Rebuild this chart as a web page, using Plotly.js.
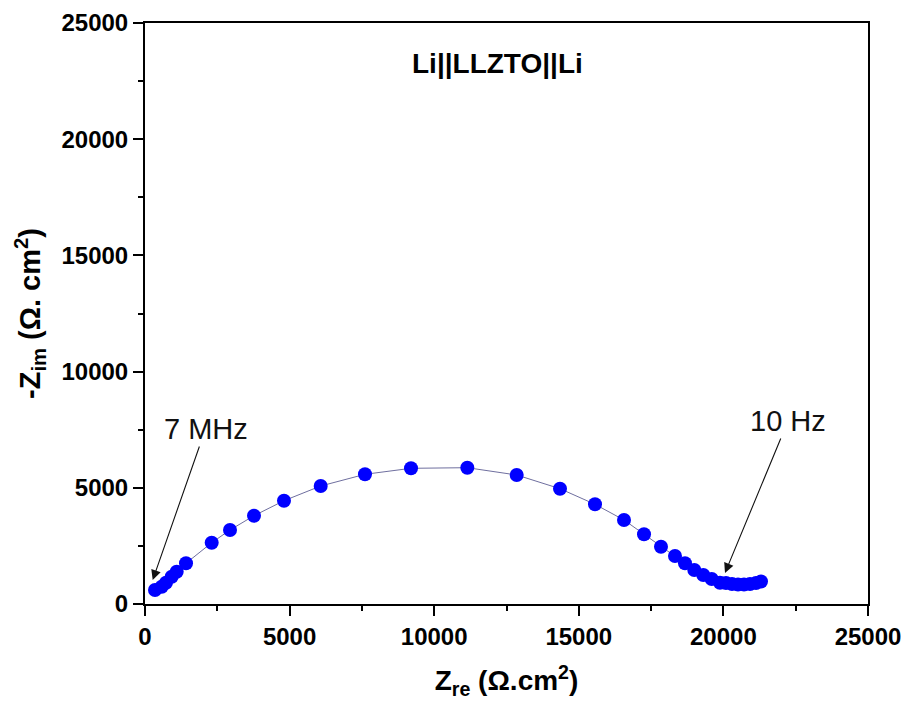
<!DOCTYPE html>
<html>
<head>
<meta charset="utf-8">
<script src="https://cdn.plot.ly/plotly-3.0.1.min.js"></script>
<style>
  html, body { margin: 0; padding: 0; background: #fff; }
  #plot { width: 907px; height: 711px; }
</style>
</head>
<body>
<div id="plot"></div>
<script>
// Nyquist plot of the symmetric Li||LLZTO||Li cell
const zRe = [346, 577, 726, 923, 1096, 1418, 2306, 2939, 3769, 4806, 6075, 7607, 9198,
             11145, 12853, 14350, 15560, 16563, 17255, 17842, 18326, 18672, 18994, 19305,
             19595, 19882, 20090, 20297, 20505, 20712, 20920, 21127, 21300];
const zIm = [602, 744, 917, 1175, 1390, 1751, 2638, 3184, 3800, 4445, 5077, 5581, 5839,
             5865, 5551, 4961, 4290, 3614, 2999, 2466, 2065, 1751, 1463, 1248,
             1076, 917, 904, 861, 839, 839, 861, 904, 968];

const xTicks = [0, 5000, 10000, 15000, 20000, 25000];
const yTicks = [0, 5000, 10000, 15000, 20000, 25000];

// Frequency markers: label position and the arrow tip, in data units
const freqLabels = [
  { text: '7 MHz', tx: 2092, ty: 7530, tip: [266, 1033] },
  { text: '10 Hz', tx: 22234, ty: 7874, tip: [20055, 1334] }
];

const FONT = 'Liberation Sans, Arial, sans-serif';

const trace = {
  x: zRe,
  y: zIm,
  type: 'scatter',
  mode: 'lines+markers',
  line: { color: '#6f6f9f', width: 1 },
  marker: { color: '#0000ff', size: 14, line: { width: 0 } },
  hoverinfo: 'x+y'
};

const axisCommon = {
  showgrid: false,
  zeroline: false,
  showline: true,
  linecolor: '#000',
  linewidth: 2,
  mirror: true,
  ticks: 'outside',
  ticklen: 10,
  tickwidth: 2,
  tickcolor: '#000',
  tickfont: { family: FONT, size: 24, color: '#000', weight: 'bold' },
  range: [0, 25000],
  minor: { dtick: 2500, ticks: 'outside', ticklen: 5, tickwidth: 2, tickcolor: '#000', showgrid: false }
};

// Each label carries its own arrow, drawn from the text box towards the data
const annotations = freqLabels.map(f => ({
  x: f.tip[0], y: f.tip[1], xref: 'x', yref: 'y',
  ax: f.tx, ay: f.ty, axref: 'x', ayref: 'y',
  text: f.text, showarrow: true, arrowhead: 2, arrowsize: 1.8, arrowwidth: 1.1, arrowcolor: '#111',
  standoff: 0,
  font: { family: FONT, size: 29, color: '#111' }
}));
annotations.push({
  x: 0.487, y: 0.931, xref: 'paper', yref: 'paper', xanchor: 'center', yanchor: 'middle',
  text: '<b>Li||LLZTO||Li</b>', showarrow: false,
  font: { family: FONT, size: 28, color: '#000' }
});

const layout = {
  width: 907,
  height: 711,
  margin: { l: 145, r: 39, t: 23, b: 107 },
  paper_bgcolor: '#fff',
  plot_bgcolor: '#fff',
  showlegend: false,
  xaxis: Object.assign({}, axisCommon, {
    tickvals: xTicks,
    ticktext: xTicks.map(String),
    title: { text: '<b>Z<sub>re</sub> (Ω.cm<sup>2</sup>)</b>', standoff: 22,
             font: { family: FONT, size: 28, color: '#000' } }
  }),
  yaxis: Object.assign({}, axisCommon, {
    tickvals: yTicks,
    ticktext: yTicks.map(String),
    title: { text: '<b>-Z<sub>im</sub> (Ω. cm<sup>2</sup>)</b>', standoff: 12,
             font: { family: FONT, size: 29, color: '#000' } }
  }),
  annotations: annotations
};

Plotly.newPlot('plot', [trace], layout, { displayModeBar: false, staticPlot: true });
</script>
</body>
</html>
